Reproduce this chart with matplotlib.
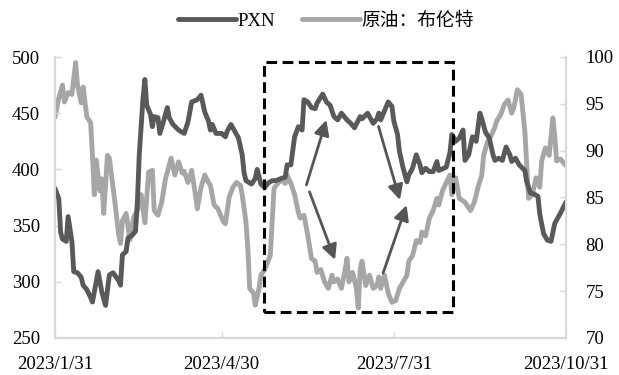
import numpy as np
import pandas as pd
import matplotlib
matplotlib.use("Agg")
import matplotlib.pyplot as plt
import matplotlib.dates as mdates
from matplotlib.patches import Rectangle

plt.rcParams['font.family'] = ['Liberation Serif', 'Noto Sans CJK SC']

# data: day offsets from 2023-01-31 and values
start = pd.Timestamp("2023-01-31")

pxn_days = [0, 2, 3, 4, 6, 7, 9, 10, 12, 14, 15, 17, 19, 20, 23, 25, 27, 29, 31, 34,
            35, 36, 38, 39, 41, 43, 44, 45, 47, 48, 49, 51, 52, 53, 55, 56, 58, 60, 61, 63,
            66, 69, 71, 73, 76, 78, 80, 82, 83, 84, 86, 89, 91, 92, 94, 96, 98, 100, 101, 102,
            105, 107, 108, 110, 112, 114, 116, 118, 121, 123, 124, 126, 128, 130, 132, 133, 135, 137, 139, 140,
            143, 145, 147, 149, 151, 153, 156, 158, 160, 163, 164, 167, 170, 172, 173, 174, 176, 178, 180, 181,
            183, 184, 186, 188, 189, 191, 193, 195, 196, 198, 200, 202, 204, 205, 209, 211, 212, 214, 216, 218,
            219, 221, 223, 225, 227, 228, 230, 232, 234, 235, 237, 239, 241, 243, 244, 246, 248, 251, 252, 254,
            256, 258, 259, 261, 263, 265, 267, 268, 270, 273]
pxn = [383, 374, 344, 338, 336, 358, 336, 309, 308, 304, 297, 293, 286, 282, 309, 291, 279, 306, 308, 301,
       297, 324, 327, 339, 341, 345, 371, 413, 463, 480, 457, 449, 438, 447, 446, 432, 443, 455, 446, 440,
       435, 432, 442, 460, 462, 466, 451, 443, 435, 440, 432, 432, 429, 434, 440, 434, 428, 413, 397, 390,
       387, 392, 400, 387, 384, 388, 390, 390, 392, 393, 404, 404, 429, 438, 435, 462, 460, 455, 454, 459,
       467, 460, 457, 447, 444, 450, 444, 441, 437, 447, 445, 450, 441, 445, 450, 444, 452, 460, 456, 443,
       431, 416, 401, 389, 395, 401, 413, 404, 397, 401, 398, 398, 407, 399, 402, 415, 431, 425, 428, 435,
       408, 413, 429, 425, 450, 445, 433, 428, 413, 408, 410, 408, 420, 413, 407, 410, 404, 399, 389, 379,
       378, 376, 360, 343, 337, 336, 352, 355, 361, 371]

brent_days = [0, 2, 4, 5, 7, 9, 11, 12, 14, 15, 17, 19, 20, 21, 22, 24, 25, 26, 28, 29,
              32, 34, 35, 36, 38, 40, 42, 44, 46, 48, 50, 52, 53, 55, 57, 59, 60, 62, 64, 66,
              68, 69, 71, 73, 75, 76, 78, 80, 82, 83, 85, 87, 90, 91, 93, 95, 97, 99, 100, 102,
              103, 104, 106, 107, 109, 110, 112, 114, 115, 117, 119, 121, 123, 124, 126, 128, 130, 131, 133, 135,
              137, 139, 140, 142, 144, 146, 148, 149, 151, 153, 155, 156, 157, 159, 161, 162, 163, 164, 166, 168,
              170, 172, 173, 174, 176, 178, 180, 182, 184, 186, 188, 189, 191, 193, 195, 196, 198, 200, 202, 204,
              205, 207, 209, 211, 212, 214, 216, 219, 220, 222, 224, 226, 228, 229, 231, 233, 235, 236, 238, 240,
              242, 244, 245, 247, 249, 251, 252, 253, 255, 257, 259, 260, 262, 264, 266, 267, 268, 270, 273]
brent = [93.6, 95.6, 97.0, 95.2, 96.2, 96.0, 99.4, 97.0, 95.1, 96.8, 93.6, 93.0, 89.5, 85.3, 89.0, 85.7, 87.0, 83.3, 89.5, 89.2,
         84.5, 81.0, 80.1, 82.5, 83.3, 80.5, 82.9, 83.6, 85.3, 82.3, 87.7, 87.9, 83.6, 83.1, 84.5, 87.0, 87.7, 89.2, 87.4, 88.8,
         87.6, 87.8, 86.6, 87.9, 85.3, 83.8, 86.1, 87.4, 86.6, 86.3, 84.2, 83.8, 82.4, 82.2, 85.0, 86.1, 86.6, 86.3, 85.3, 82.4,
         79.6, 75.3, 74.8, 73.5, 75.3, 76.7, 77.3, 78.3, 78.8, 86.0, 86.5, 86.9, 86.5, 87.4, 86.5, 85.3, 83.4, 82.8, 83.1, 81.0,
         78.5, 78.2, 77.0, 77.3, 76.0, 75.3, 76.7, 76.0, 76.3, 75.3, 77.3, 78.5, 76.0, 77.0, 75.3, 73.2, 77.3, 78.2, 75.6, 76.7,
         75.3, 75.6, 76.5, 75.3, 76.7, 74.8, 73.8, 74.0, 75.3, 76.0, 76.7, 78.2, 78.8, 80.4, 80.2, 81.3, 80.9, 82.8, 83.6, 84.9,
         84.2, 85.7, 86.6, 87.4, 85.3, 87.1, 84.9, 84.5, 84.2, 83.6, 84.5, 86.1, 87.4, 89.5, 90.9, 91.6, 92.5, 93.2, 93.8, 94.9,
         95.4, 94.0, 94.5, 96.5, 96.0, 92.1, 88.5, 84.9, 85.3, 87.1, 86.1, 88.9, 90.3, 89.5, 93.5, 91.5, 88.9, 89.1, 88.4]

tick_dates = ["2023-01-31", "2023-04-30", "2023-07-31", "2023-10-31"]
tick_labels = ["2023/1/31", "2023/4/30", "2023/7/31", "2023/10/31"]

pxn_x = start + pd.to_timedelta(pxn_days, unit="D")
brent_x = start + pd.to_timedelta(brent_days, unit="D")

dark = "#595959"
light = "#a6a6a6"
grid_c = "#d9d9d9"

fig = plt.figure(figsize=(6.19, 3.75), dpi=100)
ax = fig.add_axes([0.0889, 0.0987, 0.8255, 0.7493])
ax2 = ax.twinx()

ax2.plot(brent_x, brent, color=light, lw=3.5, solid_capstyle="round", label="原油：布伦特")
l1, = ax.plot(pxn_x, pxn, color=dark, lw=3.5, solid_capstyle="round", label="PXN")
ax.set_zorder(ax2.get_zorder() + 1)
ax.patch.set_visible(False)

ax.set_xlim(pd.Timestamp(tick_dates[0]), pd.Timestamp(tick_dates[-1]))
ax.set_ylim(250, 500)
ax.set_yticks(range(250, 501, 50))
ax2.set_ylim(70, 100)
ax2.set_yticks(range(70, 101, 5))
ax.set_xticks([pd.Timestamp(d) for d in tick_dates])
ax.set_xticklabels(tick_labels)

for a in (ax, ax2):
    for s in a.spines.values():
        s.set_color(grid_c)
        s.set_linewidth(1.5)
    a.spines["top"].set_visible(False)
    a.tick_params(direction="in", length=4, width=1, color=grid_c, labelsize=13.5)
ax.tick_params(axis="y", pad=11)
ax2.tick_params(axis="y", pad=14)
ax.tick_params(axis="x", pad=13)

# dashed highlight box
box = Rectangle((0.409, 0.0925), 0.370, 0.89, transform=ax.transAxes, fill=False,
                edgecolor="black", lw=2.2, linestyle=(0, (3.5, 1.8)), zorder=5, clip_on=False)
ax.add_patch(box)

# arrows (axes fraction coordinates)
arrows = [((0.492, 0.545), (0.531, 0.776)),
          ((0.498, 0.520), (0.548, 0.278)),
          ((0.633, 0.753), (0.675, 0.491)),
          ((0.642, 0.231), (0.688, 0.473))]
for tail, head in arrows:
    ax.annotate("", xy=head, xytext=tail, xycoords="axes fraction", textcoords="axes fraction",
                arrowprops=dict(arrowstyle="-|>,head_length=0.9,head_width=0.45", color="#555555",
                                lw=2, shrinkA=0, shrinkB=0), zorder=6)

h2, = ax2.get_lines()
fig.legend([l1, h2], ["PXN", "原油：布伦特"], loc="center", bbox_to_anchor=(326 / 619, 1 - 21 / 375),
           ncol=2, frameon=False, fontsize=13.5, handlelength=3.1, handletextpad=0.1,
           columnspacing=1.4)

fig.savefig("out.png", dpi=100)
